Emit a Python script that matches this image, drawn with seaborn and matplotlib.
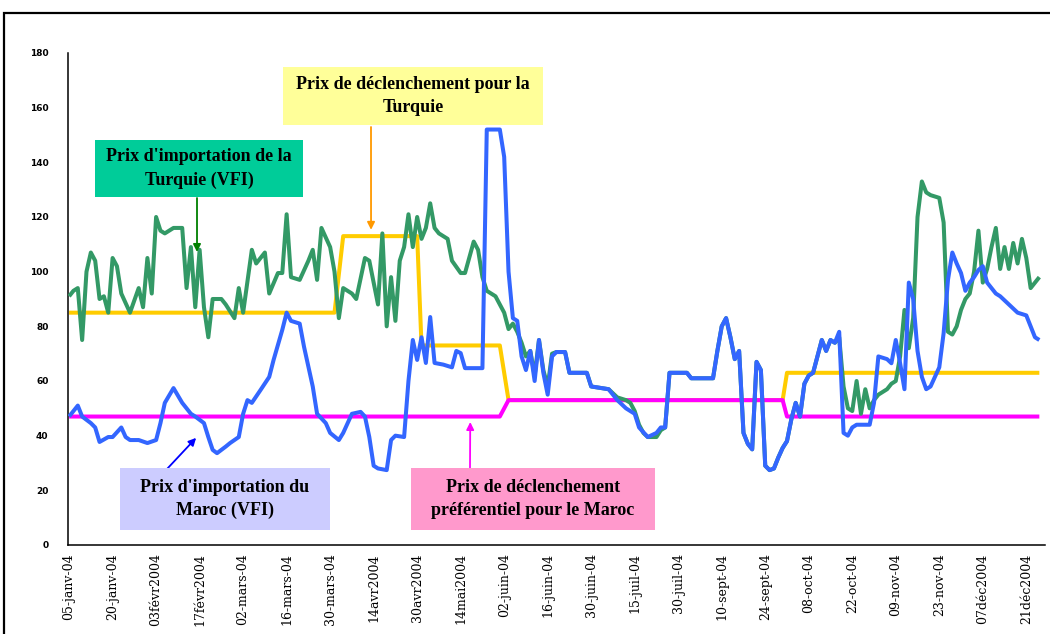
import matplotlib
matplotlib.use("Agg")
import matplotlib.pyplot as plt
from matplotlib.patches import Rectangle
import seaborn as sns

# ---- data: observation number (trading session) and price ----
date_labels = ["05-janv-04", "20-janv-04", "03févr2004", "17févr2004", "02-mars-04",
               "16-mars-04", "30-mars-04", "14avr2004", "30avr2004", "14mai2004",
               "02-juin-04", "16-juin-04", "30-juin-04", "15-juil-04", "30-juil-04",
               "10-sept-04", "24-sept-04", "08-oct-04", "22-oct-04", "09-nov-04",
               "23-nov-04", "07déc2004", "21déc2004"]
label_obs = [0, 10, 20, 30, 40, 50, 60, 70, 80, 90, 100, 110, 120, 130, 140,
             150, 160, 170, 180, 190, 200, 210, 220]
n_obs = 224

# Prix d'importation de la Turquie (VFI)
turkey_obs = [0, 1, 2, 3, 4, 5, 6, 7, 8, 9, 10, 11, 12, 14, 16, 17, 18, 19, 20, 21,
              22, 24, 26, 27, 28, 29, 30, 31, 32, 33, 35, 36, 38, 39, 40, 42, 43, 45,
              46, 48, 49, 50, 51, 53, 55, 56, 57, 58, 60, 61, 62, 63, 65, 66, 68, 69,
              71, 72, 73, 74, 75, 76, 77, 78, 79, 80, 81, 82, 83, 84, 85, 87, 88, 90,
              91, 93, 94, 95, 96, 98, 100, 101, 102, 103, 104, 105, 106, 107, 108,
              109, 110, 111, 112, 114, 115, 119, 120, 124, 126, 128, 129, 130, 131,
              132, 133, 135, 136, 137, 138, 142, 143, 148, 149, 150, 151, 152, 153,
              154, 155, 156, 157, 158, 159, 160, 161, 162, 163, 164, 165, 166, 167,
              168, 169, 170, 171, 172, 173, 174, 175, 176, 177, 178, 179, 180, 181,
              182, 183, 184, 185, 186, 187, 188, 189, 190, 191, 192, 193, 194, 195,
              196, 197, 198, 200, 201, 202, 203, 204, 205, 206, 207, 208, 209, 210,
              211, 212, 213, 214, 215, 216, 217, 218, 219, 220, 221, 222, 223]
turkey_val = [91, 93, 94, 75, 100, 107, 104, 90, 91, 85, 105, 102, 92, 85, 94, 87, 105,
              92, 120, 115, 114, 116, 116, 94, 109, 87, 108, 87, 76, 90, 90, 88, 83, 94,
              85, 108, 103, 107, 92, 99.5, 99.5, 121, 98, 97, 104, 108, 97, 116, 109,
              100, 83, 94, 92, 90, 105, 104, 88, 114, 80, 98, 82, 104, 109, 121, 109,
              120, 112, 116, 125, 116, 114, 112, 104, 99.5, 99.5, 111, 108, 98, 93, 91,
              85, 79, 81, 78, 74, 69, 71, 62, 75, 64, 58, 70, 70.6, 70.6, 63, 63, 58,
              57, 54, 53, 52, 49, 44, 41, 39.5, 39.5, 42, 43, 63, 63, 61, 61, 71, 80,
              83, 76, 68, 71, 41, 37, 35, 67, 64, 29, 27.4, 28, 32, 35.5, 38, 46, 52,
              47, 59, 62, 63, 69, 75, 71, 75, 74, 76, 58, 50, 49, 60, 48, 57, 50, 53,
              55, 56, 57, 59, 60, 69, 86, 72, 83, 120, 133, 129, 128, 127, 118, 78, 77,
              80, 86, 90, 92, 100, 115, 96, 101, 109, 116, 101, 109, 101, 110.5, 103,
              112, 105, 94, 96, 98]

# Prix d'importation du Maroc (VFI)
morocco_obs = [0, 2, 3, 5, 6, 7, 9, 10, 12, 13, 14, 16, 18, 20, 21, 22, 24, 26, 28,
               29, 31, 32, 33, 34, 36, 37, 39, 40, 41, 42, 44, 46, 47, 49, 50, 51, 53,
               54, 56, 57, 59, 60, 62, 63, 65, 67, 68, 69, 70, 71, 73, 74, 75, 77, 78,
               79, 80, 81, 82, 83, 84, 86, 88, 89, 90, 91, 95, 96, 99, 100, 101, 102,
               103, 104, 105, 106, 107, 108, 109, 110, 111, 112, 114, 115, 119, 120,
               124, 126, 128, 130, 131, 133, 135, 136, 137, 138, 142, 143, 148, 149,
               150, 151, 152, 153, 154, 155, 156, 157, 158, 159, 160, 161, 162, 163,
               164, 165, 166, 167, 168, 169, 170, 171, 172, 173, 174, 175, 176, 177,
               178, 179, 180, 181, 184, 185, 186, 188, 189, 190, 191, 192, 193, 194,
               195, 196, 197, 198, 199, 200, 201, 202, 203, 204, 205, 206, 207, 208,
               209, 210, 211, 213, 214, 216, 218, 220, 221, 222, 223]
morocco_val = [47, 51, 47, 44.6, 43, 37.7, 39.5, 39.5, 43, 39.5, 38.4, 38.4, 37.3, 38.4,
               44.6, 52, 57.4, 52, 48, 47, 44.6, 39.5, 34.8, 33.6, 36, 37.3, 39.5, 48,
               53, 52, 56.7, 61.5, 67.7, 78.7, 85, 82, 81, 72.5, 58, 48, 44.6, 41, 38.4,
               41, 48, 48.7, 47, 39.5, 29, 28, 27.4, 38.4, 40, 39.5, 60, 75, 67.7, 76,
               66.6, 83.4, 66.6, 66, 65, 71, 70.2, 64.7, 64.7, 152, 152, 142, 100, 83,
               82, 69, 64, 71, 60, 75, 63, 55, 69, 70.6, 70.6, 63, 63, 58, 57, 53, 50,
               48, 43, 39.5, 41, 43, 43, 63, 63, 61, 61, 71, 80, 83, 76, 68, 71, 41, 37,
               35, 67, 64, 29, 27.4, 28, 32, 35.5, 38, 46, 52, 47, 59, 62, 63, 69, 75,
               71, 75, 74, 78, 41, 40, 43, 44, 44, 52, 69, 68, 66.5, 75, 66.5, 57, 96,
               90, 71, 61.5, 57, 58, 61.5, 65, 77.5, 97, 107, 103, 99.5, 93, 96, 98,
               100.6, 102, 96, 92, 91, 88, 85, 84, 80, 76, 75]

# Prix de déclenchement pour la Turquie
trigger_tr_obs = [0, 61, 63, 80, 81, 99, 101, 164, 165, 223]
trigger_tr_val = [85, 85, 113, 113, 73, 73, 53, 53, 63, 63]

# Prix de déclenchement préférentiel pour le Maroc
trigger_ma_obs = [0, 99, 101, 164, 165, 223]
trigger_ma_val = [47, 47, 53, 53, 47, 47]

# ---- figure ----
W, H = 1050, 634
sns.set_style("white")
plt.rcParams["font.family"] = ["Liberation Serif", "DejaVu Serif"]
plt.rcParams["text.color"] = "black"
plt.rcParams["xtick.color"] = "black"
plt.rcParams["ytick.color"] = "black"

fig = plt.figure(figsize=(W / 100, H / 100), dpi=100)
fig.patch.set_facecolor("white")
ax = fig.add_axes([68 / W, 1 - 545 / H, (1045 - 68) / W, (545 - 53) / H])


def fpos(x, y):
    """Pixel position on the canvas -> figure fraction."""
    return (x / W, 1 - y / H)


line_kw = dict(linewidth=2.9, estimator=None, sort=False, solid_joinstyle="round",
               solid_capstyle="butt")
sns.lineplot(x=trigger_tr_obs, y=trigger_tr_val, ax=ax, color="#FFCC00", zorder=2, **line_kw)
sns.lineplot(x=trigger_ma_obs, y=trigger_ma_val, ax=ax, color="#FF00FF", zorder=3, **line_kw)
sns.lineplot(x=turkey_obs, y=turkey_val, ax=ax, color="#339966", zorder=4, **line_kw)
sns.lineplot(x=morocco_obs, y=morocco_val, ax=ax, color="#3366FF", zorder=5, **line_kw)

ax.set_xlim(-0.25, 224.3)
ax.set_ylim(0, 180)
ax.set_xlabel("")
ax.set_ylabel("")
ax.set_yticks(range(0, 181, 20))
ax.set_yticklabels([str(v) for v in range(0, 181, 20)],
                   fontfamily="DejaVu Sans", fontweight="bold", fontsize=6.5)
ax.set_xticks(label_obs)
ax.set_xticklabels(date_labels, rotation=90, fontsize=9, fontfamily="DejaVu Serif")
ax.set_xticks(range(0, n_obs + 1), minor=True)
ax.tick_params(axis="x", which="both", direction="out", length=3, width=0.8,
               color="black", labelcolor="black", pad=3)
ax.tick_params(axis="y", direction="out", length=4, width=0.9, color="black",
               labelcolor="black", pad=10)
for side in ("top", "right"):
    ax.spines[side].set_visible(False)
for side in ("left", "bottom"):
    ax.spines[side].set_color("black")
    ax.spines[side].set_linewidth(1.1)

# outer frame of the chart
fig.patches.append(Rectangle((4 / W, -0.1), 1.2, 1.1 - 13 / H, transform=fig.transFigure,
                             fill=False, edgecolor="black", linewidth=1.6, zorder=0))

# ---- call-out boxes ----
boxes = [
    ((95, 140, 303, 197), "#00CC99", "Prix d'importation de la\nTurquie (VFI)"),
    ((283, 67, 543, 125), "#FFFF99", "Prix de déclenchement pour la\nTurquie"),
    ((120, 468, 330, 530), "#CCCCFF", "Prix d'importation du\nMaroc (VFI)"),
    ((411, 468, 655, 530), "#FF99CC", "Prix de déclenchement\npréférentiel pour le Maroc"),
]
for (x0, y0, x1, y1), face, text in boxes:
    fig.patches.append(Rectangle(fpos(x0, y1), (x1 - x0) / W, (y1 - y0) / H,
                                 transform=fig.transFigure, facecolor=face,
                                 edgecolor="none", zorder=6))
    cx, cy = fpos((x0 + x1) / 2, (y0 + y1) / 2)
    fig.text(cx, cy, text, ha="center", va="center", fontsize=13, fontweight="bold",
             color="black", linespacing=1.45, zorder=7)

arrows = [
    (fpos(197, 198), (29.4, 107.2), "#008000"),
    (fpos(371, 127), (69.4, 115.3), "#FF9900"),
    (fpos(167, 469), (29.2, 39.2), "#0000FF"),
    (fpos(470, 468), (92.2, 45.0), "#FF00FF"),
]
for tail, tip, col in arrows:
    ax.annotate("", xy=tip, xycoords="data", xytext=tail, textcoords="figure fraction",
                arrowprops=dict(arrowstyle="-|>", color=col, lw=1.3, mutation_scale=11,
                                shrinkA=0, shrinkB=0), zorder=8, annotation_clip=False)

fig.savefig("out.png", dpi=100, facecolor="white")
